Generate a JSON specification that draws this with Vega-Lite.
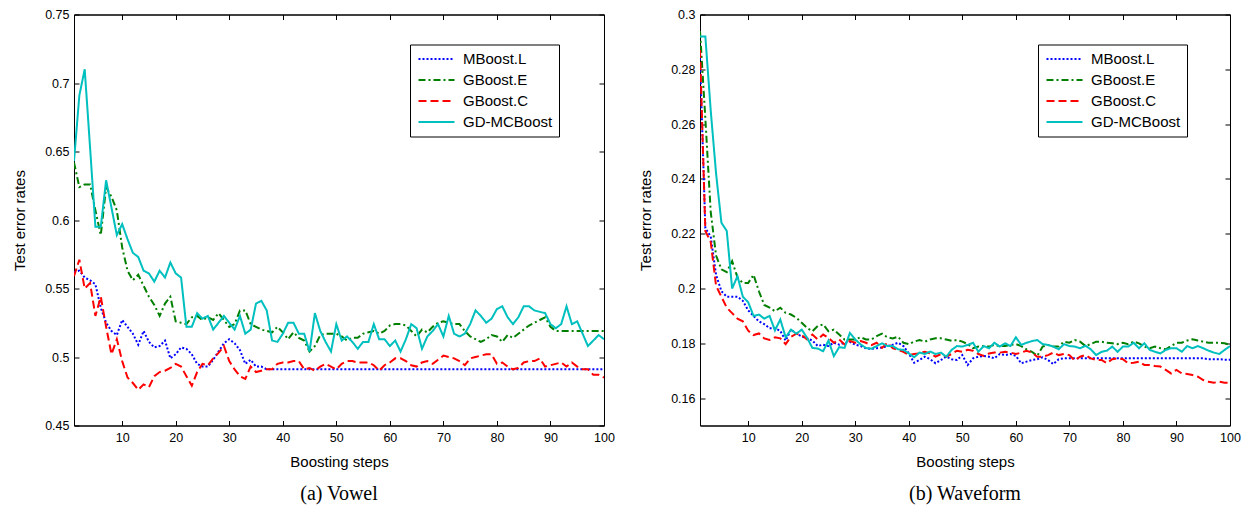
{
  "$schema": "https://vega.github.io/schema/vega-lite/v6.json",
  "background": "white",
  "padding": {"left": 12, "top": 7.5, "right": 5, "bottom": 5},
  "spacing": 23,
  "config": {
    "font": "Liberation Sans",
    "view": {"stroke": "black", "strokeWidth": 1},
    "axis": {
      "grid": false,
      "domainColor": "black",
      "domainWidth": 1,
      "tickColor": "black",
      "tickWidth": 1,
      "tickSize": -5,
      "labelColor": "black",
      "labelFontSize": 12.5,
      "labelPadding": 10,
      "titleColor": "black",
      "titleFontSize": 15,
      "titleFontWeight": "normal",
      "labelFlush": false,
      "labelOverlap": false
    },
    "legend": {
      "strokeColor": "black",
      "fillColor": "white",
      "padding": 6,
      "labelFontSize": 15,
      "labelColor": "black",
      "labelOffset": 18,
      "symbolOffset": 12,
      "symbolStrokeWidth": 2,
      "symbolType": "M-2.4,0H2.4",
      "symbolSize": 225,
      "rowPadding": 4,
      "cornerRadius": 0
    }
  },
  "datasets": {
    "vowel": [
      {"step":1,"MBoost_L":0.562,"GBoost_E":0.642,"GBoost_C":0.559,"GD-MCBoost":0.643},
      {"step":2,"MBoost_L":0.563,"GBoost_E":0.624,"GBoost_C":0.571,"GD-MCBoost":0.691},
      {"step":3,"MBoost_L":0.558,"GBoost_E":0.626,"GBoost_C":0.550,"GD-MCBoost":0.710},
      {"step":4,"MBoost_L":0.556,"GBoost_E":0.626,"GBoost_C":0.554,"GD-MCBoost":0.653},
      {"step":5,"MBoost_L":0.553,"GBoost_E":0.607,"GBoost_C":0.530,"GD-MCBoost":0.595},
      {"step":6,"MBoost_L":0.536,"GBoost_E":0.589,"GBoost_C":0.544,"GD-MCBoost":0.595},
      {"step":7,"MBoost_L":0.525,"GBoost_E":0.624,"GBoost_C":0.522,"GD-MCBoost":0.629},
      {"step":8,"MBoost_L":0.519,"GBoost_E":0.617,"GBoost_C":0.502,"GD-MCBoost":0.609},
      {"step":9,"MBoost_L":0.516,"GBoost_E":0.607,"GBoost_C":0.513,"GD-MCBoost":0.589},
      {"step":10,"MBoost_L":0.527,"GBoost_E":0.580,"GBoost_C":0.497,"GD-MCBoost":0.597},
      {"step":11,"MBoost_L":0.522,"GBoost_E":0.563,"GBoost_C":0.485,"GD-MCBoost":0.586},
      {"step":12,"MBoost_L":0.517,"GBoost_E":0.556,"GBoost_C":0.481,"GD-MCBoost":0.576},
      {"step":13,"MBoost_L":0.509,"GBoost_E":0.560,"GBoost_C":0.476,"GD-MCBoost":0.573},
      {"step":14,"MBoost_L":0.519,"GBoost_E":0.552,"GBoost_C":0.480,"GD-MCBoost":0.563},
      {"step":15,"MBoost_L":0.511,"GBoost_E":0.544,"GBoost_C":0.478,"GD-MCBoost":0.561},
      {"step":16,"MBoost_L":0.507,"GBoost_E":0.538,"GBoost_C":0.486,"GD-MCBoost":0.555},
      {"step":17,"MBoost_L":0.508,"GBoost_E":0.530,"GBoost_C":0.489,"GD-MCBoost":0.563},
      {"step":18,"MBoost_L":0.512,"GBoost_E":0.539,"GBoost_C":0.490,"GD-MCBoost":0.558},
      {"step":19,"MBoost_L":0.499,"GBoost_E":0.544,"GBoost_C":0.492,"GD-MCBoost":0.569},
      {"step":20,"MBoost_L":0.502,"GBoost_E":0.526,"GBoost_C":0.495,"GD-MCBoost":0.561},
      {"step":21,"MBoost_L":0.507,"GBoost_E":0.525,"GBoost_C":0.493,"GD-MCBoost":0.558},
      {"step":22,"MBoost_L":0.506,"GBoost_E":0.524,"GBoost_C":0.486,"GD-MCBoost":0.522},
      {"step":23,"MBoost_L":0.502,"GBoost_E":0.529,"GBoost_C":0.479,"GD-MCBoost":0.522},
      {"step":24,"MBoost_L":0.495,"GBoost_E":0.530,"GBoost_C":0.489,"GD-MCBoost":0.532},
      {"step":25,"MBoost_L":0.493,"GBoost_E":0.527,"GBoost_C":0.495,"GD-MCBoost":0.528},
      {"step":26,"MBoost_L":0.493,"GBoost_E":0.529,"GBoost_C":0.494,"GD-MCBoost":0.530},
      {"step":27,"MBoost_L":0.498,"GBoost_E":0.527,"GBoost_C":0.499,"GD-MCBoost":0.520},
      {"step":28,"MBoost_L":0.504,"GBoost_E":0.532,"GBoost_C":0.503,"GD-MCBoost":0.525},
      {"step":29,"MBoost_L":0.510,"GBoost_E":0.527,"GBoost_C":0.508,"GD-MCBoost":0.530},
      {"step":30,"MBoost_L":0.513,"GBoost_E":0.522,"GBoost_C":0.497,"GD-MCBoost":0.525},
      {"step":31,"MBoost_L":0.510,"GBoost_E":0.524,"GBoost_C":0.491,"GD-MCBoost":0.520},
      {"step":32,"MBoost_L":0.505,"GBoost_E":0.534,"GBoost_C":0.486,"GD-MCBoost":0.530},
      {"step":33,"MBoost_L":0.495,"GBoost_E":0.534,"GBoost_C":0.484,"GD-MCBoost":0.517},
      {"step":34,"MBoost_L":0.498,"GBoost_E":0.524,"GBoost_C":0.493,"GD-MCBoost":0.520},
      {"step":35,"MBoost_L":0.493,"GBoost_E":0.522,"GBoost_C":0.489,"GD-MCBoost":0.539},
      {"step":36,"MBoost_L":0.493,"GBoost_E":0.520,"GBoost_C":0.490,"GD-MCBoost":0.541},
      {"step":37,"MBoost_L":0.491,"GBoost_E":0.519,"GBoost_C":0.491,"GD-MCBoost":0.534},
      {"step":38,"MBoost_L":0.491,"GBoost_E":0.518,"GBoost_C":0.491,"GD-MCBoost":0.512},
      {"step":39,"MBoost_L":0.491,"GBoost_E":0.522,"GBoost_C":0.495,"GD-MCBoost":0.511},
      {"step":40,"MBoost_L":0.491,"GBoost_E":0.518,"GBoost_C":0.496,"GD-MCBoost":0.517},
      {"step":41,"MBoost_L":0.491,"GBoost_E":0.513,"GBoost_C":0.496,"GD-MCBoost":0.525},
      {"step":42,"MBoost_L":0.491,"GBoost_E":0.518,"GBoost_C":0.497,"GD-MCBoost":0.525},
      {"step":43,"MBoost_L":0.491,"GBoost_E":0.514,"GBoost_C":0.497,"GD-MCBoost":0.517},
      {"step":44,"MBoost_L":0.491,"GBoost_E":0.512,"GBoost_C":0.491,"GD-MCBoost":0.517},
      {"step":45,"MBoost_L":0.491,"GBoost_E":0.504,"GBoost_C":0.492,"GD-MCBoost":0.504},
      {"step":46,"MBoost_L":0.491,"GBoost_E":0.508,"GBoost_C":0.490,"GD-MCBoost":0.532},
      {"step":47,"MBoost_L":0.491,"GBoost_E":0.516,"GBoost_C":0.493,"GD-MCBoost":0.519},
      {"step":48,"MBoost_L":0.491,"GBoost_E":0.517,"GBoost_C":0.495,"GD-MCBoost":0.511},
      {"step":49,"MBoost_L":0.491,"GBoost_E":0.517,"GBoost_C":0.493,"GD-MCBoost":0.504},
      {"step":50,"MBoost_L":0.491,"GBoost_E":0.517,"GBoost_C":0.491,"GD-MCBoost":0.524},
      {"step":51,"MBoost_L":0.491,"GBoost_E":0.515,"GBoost_C":0.495,"GD-MCBoost":0.512},
      {"step":52,"MBoost_L":0.491,"GBoost_E":0.512,"GBoost_C":0.497,"GD-MCBoost":0.515},
      {"step":53,"MBoost_L":0.491,"GBoost_E":0.514,"GBoost_C":0.497,"GD-MCBoost":0.511},
      {"step":54,"MBoost_L":0.491,"GBoost_E":0.514,"GBoost_C":0.496,"GD-MCBoost":0.506},
      {"step":55,"MBoost_L":0.491,"GBoost_E":0.517,"GBoost_C":0.496,"GD-MCBoost":0.511},
      {"step":56,"MBoost_L":0.491,"GBoost_E":0.518,"GBoost_C":0.496,"GD-MCBoost":0.511},
      {"step":57,"MBoost_L":0.491,"GBoost_E":0.519,"GBoost_C":0.494,"GD-MCBoost":0.524},
      {"step":58,"MBoost_L":0.491,"GBoost_E":0.517,"GBoost_C":0.490,"GD-MCBoost":0.513},
      {"step":59,"MBoost_L":0.491,"GBoost_E":0.519,"GBoost_C":0.494,"GD-MCBoost":0.513},
      {"step":60,"MBoost_L":0.491,"GBoost_E":0.523,"GBoost_C":0.496,"GD-MCBoost":0.508},
      {"step":61,"MBoost_L":0.491,"GBoost_E":0.524,"GBoost_C":0.499,"GD-MCBoost":0.512},
      {"step":62,"MBoost_L":0.491,"GBoost_E":0.524,"GBoost_C":0.499,"GD-MCBoost":0.504},
      {"step":63,"MBoost_L":0.491,"GBoost_E":0.523,"GBoost_C":0.497,"GD-MCBoost":0.513},
      {"step":64,"MBoost_L":0.491,"GBoost_E":0.519,"GBoost_C":0.494,"GD-MCBoost":0.524},
      {"step":65,"MBoost_L":0.491,"GBoost_E":0.515,"GBoost_C":0.493,"GD-MCBoost":0.521},
      {"step":66,"MBoost_L":0.491,"GBoost_E":0.520,"GBoost_C":0.496,"GD-MCBoost":0.506},
      {"step":67,"MBoost_L":0.491,"GBoost_E":0.518,"GBoost_C":0.497,"GD-MCBoost":0.515},
      {"step":68,"MBoost_L":0.491,"GBoost_E":0.522,"GBoost_C":0.495,"GD-MCBoost":0.519},
      {"step":69,"MBoost_L":0.491,"GBoost_E":0.525,"GBoost_C":0.498,"GD-MCBoost":0.524},
      {"step":70,"MBoost_L":0.491,"GBoost_E":0.526,"GBoost_C":0.501,"GD-MCBoost":0.515},
      {"step":71,"MBoost_L":0.491,"GBoost_E":0.525,"GBoost_C":0.500,"GD-MCBoost":0.530},
      {"step":72,"MBoost_L":0.491,"GBoost_E":0.524,"GBoost_C":0.499,"GD-MCBoost":0.517},
      {"step":73,"MBoost_L":0.491,"GBoost_E":0.524,"GBoost_C":0.497,"GD-MCBoost":0.515},
      {"step":74,"MBoost_L":0.491,"GBoost_E":0.519,"GBoost_C":0.494,"GD-MCBoost":0.517},
      {"step":75,"MBoost_L":0.491,"GBoost_E":0.515,"GBoost_C":0.499,"GD-MCBoost":0.524},
      {"step":76,"MBoost_L":0.491,"GBoost_E":0.513,"GBoost_C":0.500,"GD-MCBoost":0.534},
      {"step":77,"MBoost_L":0.491,"GBoost_E":0.511,"GBoost_C":0.501,"GD-MCBoost":0.530},
      {"step":78,"MBoost_L":0.491,"GBoost_E":0.513,"GBoost_C":0.502,"GD-MCBoost":0.525},
      {"step":79,"MBoost_L":0.491,"GBoost_E":0.516,"GBoost_C":0.502,"GD-MCBoost":0.528},
      {"step":80,"MBoost_L":0.491,"GBoost_E":0.515,"GBoost_C":0.495,"GD-MCBoost":0.535},
      {"step":81,"MBoost_L":0.491,"GBoost_E":0.511,"GBoost_C":0.496,"GD-MCBoost":0.537},
      {"step":82,"MBoost_L":0.491,"GBoost_E":0.516,"GBoost_C":0.493,"GD-MCBoost":0.529},
      {"step":83,"MBoost_L":0.491,"GBoost_E":0.514,"GBoost_C":0.491,"GD-MCBoost":0.524},
      {"step":84,"MBoost_L":0.491,"GBoost_E":0.517,"GBoost_C":0.492,"GD-MCBoost":0.529},
      {"step":85,"MBoost_L":0.491,"GBoost_E":0.520,"GBoost_C":0.496,"GD-MCBoost":0.537},
      {"step":86,"MBoost_L":0.491,"GBoost_E":0.523,"GBoost_C":0.497,"GD-MCBoost":0.537},
      {"step":87,"MBoost_L":0.491,"GBoost_E":0.525,"GBoost_C":0.497,"GD-MCBoost":0.534},
      {"step":88,"MBoost_L":0.491,"GBoost_E":0.527,"GBoost_C":0.499,"GD-MCBoost":0.533},
      {"step":89,"MBoost_L":0.491,"GBoost_E":0.529,"GBoost_C":0.493,"GD-MCBoost":0.532},
      {"step":90,"MBoost_L":0.491,"GBoost_E":0.522,"GBoost_C":0.494,"GD-MCBoost":0.524},
      {"step":91,"MBoost_L":0.491,"GBoost_E":0.519,"GBoost_C":0.495,"GD-MCBoost":0.521},
      {"step":92,"MBoost_L":0.491,"GBoost_E":0.519,"GBoost_C":0.496,"GD-MCBoost":0.524},
      {"step":93,"MBoost_L":0.491,"GBoost_E":0.519,"GBoost_C":0.493,"GD-MCBoost":0.537},
      {"step":94,"MBoost_L":0.491,"GBoost_E":0.519,"GBoost_C":0.496,"GD-MCBoost":0.524},
      {"step":95,"MBoost_L":0.491,"GBoost_E":0.519,"GBoost_C":0.493,"GD-MCBoost":0.526},
      {"step":96,"MBoost_L":0.491,"GBoost_E":0.519,"GBoost_C":0.491,"GD-MCBoost":0.517},
      {"step":97,"MBoost_L":0.491,"GBoost_E":0.519,"GBoost_C":0.491,"GD-MCBoost":0.508},
      {"step":98,"MBoost_L":0.491,"GBoost_E":0.519,"GBoost_C":0.487,"GD-MCBoost":0.512},
      {"step":99,"MBoost_L":0.491,"GBoost_E":0.519,"GBoost_C":0.487,"GD-MCBoost":0.516},
      {"step":100,"MBoost_L":0.491,"GBoost_E":0.519,"GBoost_C":0.485,"GD-MCBoost":0.513}
    ],
    "waveform": [
      {"step":1,"MBoost_L":0.284,"GBoost_E":0.294,"GBoost_C":0.287,"GD-MCBoost":0.292},
      {"step":2,"MBoost_L":0.222,"GBoost_E":0.262,"GBoost_C":0.221,"GD-MCBoost":0.292},
      {"step":3,"MBoost_L":0.219,"GBoost_E":0.228,"GBoost_C":0.217,"GD-MCBoost":0.265},
      {"step":4,"MBoost_L":0.205,"GBoost_E":0.212,"GBoost_C":0.201,"GD-MCBoost":0.242},
      {"step":5,"MBoost_L":0.199,"GBoost_E":0.207,"GBoost_C":0.197,"GD-MCBoost":0.224},
      {"step":6,"MBoost_L":0.197,"GBoost_E":0.206,"GBoost_C":0.193,"GD-MCBoost":0.221},
      {"step":7,"MBoost_L":0.197,"GBoost_E":0.210,"GBoost_C":0.191,"GD-MCBoost":0.200},
      {"step":8,"MBoost_L":0.197,"GBoost_E":0.204,"GBoost_C":0.189,"GD-MCBoost":0.2045},
      {"step":9,"MBoost_L":0.1955,"GBoost_E":0.202,"GBoost_C":0.188,"GD-MCBoost":0.197},
      {"step":10,"MBoost_L":0.192,"GBoost_E":0.202,"GBoost_C":0.1846,"GD-MCBoost":0.195},
      {"step":11,"MBoost_L":0.190,"GBoost_E":0.205,"GBoost_C":0.183,"GD-MCBoost":0.190},
      {"step":12,"MBoost_L":0.188,"GBoost_E":0.199,"GBoost_C":0.1836,"GD-MCBoost":0.1905},
      {"step":13,"MBoost_L":0.187,"GBoost_E":0.194,"GBoost_C":0.1818,"GD-MCBoost":0.189},
      {"step":14,"MBoost_L":0.1855,"GBoost_E":0.193,"GBoost_C":0.1812,"GD-MCBoost":0.190},
      {"step":15,"MBoost_L":0.1855,"GBoost_E":0.1917,"GBoost_C":0.1822,"GD-MCBoost":0.1847},
      {"step":16,"MBoost_L":0.1845,"GBoost_E":0.193,"GBoost_C":0.1818,"GD-MCBoost":0.1887},
      {"step":17,"MBoost_L":0.181,"GBoost_E":0.1911,"GBoost_C":0.1797,"GD-MCBoost":0.1822},
      {"step":18,"MBoost_L":0.185,"GBoost_E":0.1905,"GBoost_C":0.1824,"GD-MCBoost":0.185},
      {"step":19,"MBoost_L":0.1835,"GBoost_E":0.1893,"GBoost_C":0.1835,"GD-MCBoost":0.1835},
      {"step":20,"MBoost_L":0.1825,"GBoost_E":0.1875,"GBoost_C":0.183,"GD-MCBoost":0.185},
      {"step":21,"MBoost_L":0.1818,"GBoost_E":0.1856,"GBoost_C":0.1814,"GD-MCBoost":0.182},
      {"step":22,"MBoost_L":0.181,"GBoost_E":0.1844,"GBoost_C":0.1832,"GD-MCBoost":0.1783},
      {"step":23,"MBoost_L":0.179,"GBoost_E":0.1863,"GBoost_C":0.1814,"GD-MCBoost":0.1781},
      {"step":24,"MBoost_L":0.1795,"GBoost_E":0.1869,"GBoost_C":0.1832,"GD-MCBoost":0.1771},
      {"step":25,"MBoost_L":0.179,"GBoost_E":0.1844,"GBoost_C":0.182,"GD-MCBoost":0.181},
      {"step":26,"MBoost_L":0.1802,"GBoost_E":0.185,"GBoost_C":0.1802,"GD-MCBoost":0.1753},
      {"step":27,"MBoost_L":0.1795,"GBoost_E":0.1832,"GBoost_C":0.1814,"GD-MCBoost":0.1786},
      {"step":28,"MBoost_L":0.1802,"GBoost_E":0.1814,"GBoost_C":0.1796,"GD-MCBoost":0.1783},
      {"step":29,"MBoost_L":0.1805,"GBoost_E":0.1814,"GBoost_C":0.1808,"GD-MCBoost":0.1838},
      {"step":30,"MBoost_L":0.1795,"GBoost_E":0.1814,"GBoost_C":0.1802,"GD-MCBoost":0.1814},
      {"step":31,"MBoost_L":0.179,"GBoost_E":0.1822,"GBoost_C":0.1808,"GD-MCBoost":0.1796},
      {"step":32,"MBoost_L":0.1782,"GBoost_E":0.1814,"GBoost_C":0.1802,"GD-MCBoost":0.1783},
      {"step":33,"MBoost_L":0.178,"GBoost_E":0.1814,"GBoost_C":0.1793,"GD-MCBoost":0.178},
      {"step":34,"MBoost_L":0.1782,"GBoost_E":0.1826,"GBoost_C":0.1802,"GD-MCBoost":0.179},
      {"step":35,"MBoost_L":0.1785,"GBoost_E":0.1835,"GBoost_C":0.1783,"GD-MCBoost":0.180},
      {"step":36,"MBoost_L":0.179,"GBoost_E":0.1822,"GBoost_C":0.1802,"GD-MCBoost":0.179},
      {"step":37,"MBoost_L":0.1795,"GBoost_E":0.1818,"GBoost_C":0.1782,"GD-MCBoost":0.179},
      {"step":38,"MBoost_L":0.1802,"GBoost_E":0.1824,"GBoost_C":0.1776,"GD-MCBoost":0.1778},
      {"step":39,"MBoost_L":0.179,"GBoost_E":0.1802,"GBoost_C":0.1769,"GD-MCBoost":0.1776},
      {"step":40,"MBoost_L":0.1763,"GBoost_E":0.1797,"GBoost_C":0.1757,"GD-MCBoost":0.1763},
      {"step":41,"MBoost_L":0.1729,"GBoost_E":0.1806,"GBoost_C":0.1761,"GD-MCBoost":0.1749},
      {"step":42,"MBoost_L":0.1739,"GBoost_E":0.1812,"GBoost_C":0.1763,"GD-MCBoost":0.1766},
      {"step":43,"MBoost_L":0.1751,"GBoost_E":0.1806,"GBoost_C":0.1769,"GD-MCBoost":0.1761},
      {"step":44,"MBoost_L":0.1742,"GBoost_E":0.1814,"GBoost_C":0.1763,"GD-MCBoost":0.177},
      {"step":45,"MBoost_L":0.1727,"GBoost_E":0.1818,"GBoost_C":0.1751,"GD-MCBoost":0.1761},
      {"step":46,"MBoost_L":0.1739,"GBoost_E":0.1818,"GBoost_C":0.1761,"GD-MCBoost":0.1766},
      {"step":47,"MBoost_L":0.1751,"GBoost_E":0.1814,"GBoost_C":0.1751,"GD-MCBoost":0.1751},
      {"step":48,"MBoost_L":0.1742,"GBoost_E":0.1809,"GBoost_C":0.1761,"GD-MCBoost":0.1776},
      {"step":49,"MBoost_L":0.1739,"GBoost_E":0.1812,"GBoost_C":0.1773,"GD-MCBoost":0.179},
      {"step":50,"MBoost_L":0.1757,"GBoost_E":0.1806,"GBoost_C":0.1769,"GD-MCBoost":0.1788},
      {"step":51,"MBoost_L":0.1721,"GBoost_E":0.1797,"GBoost_C":0.1776,"GD-MCBoost":0.1794},
      {"step":52,"MBoost_L":0.1745,"GBoost_E":0.1782,"GBoost_C":0.1773,"GD-MCBoost":0.1802},
      {"step":53,"MBoost_L":0.1751,"GBoost_E":0.1788,"GBoost_C":0.1761,"GD-MCBoost":0.1769},
      {"step":54,"MBoost_L":0.1754,"GBoost_E":0.179,"GBoost_C":0.1754,"GD-MCBoost":0.179},
      {"step":55,"MBoost_L":0.1751,"GBoost_E":0.1788,"GBoost_C":0.1763,"GD-MCBoost":0.1782},
      {"step":56,"MBoost_L":0.1745,"GBoost_E":0.1794,"GBoost_C":0.1766,"GD-MCBoost":0.1802},
      {"step":57,"MBoost_L":0.1761,"GBoost_E":0.179,"GBoost_C":0.1766,"GD-MCBoost":0.1788},
      {"step":58,"MBoost_L":0.1757,"GBoost_E":0.179,"GBoost_C":0.1769,"GD-MCBoost":0.180},
      {"step":59,"MBoost_L":0.1761,"GBoost_E":0.1794,"GBoost_C":0.1766,"GD-MCBoost":0.179},
      {"step":60,"MBoost_L":0.1754,"GBoost_E":0.1797,"GBoost_C":0.1761,"GD-MCBoost":0.1822},
      {"step":61,"MBoost_L":0.1727,"GBoost_E":0.179,"GBoost_C":0.1766,"GD-MCBoost":0.1794},
      {"step":62,"MBoost_L":0.1733,"GBoost_E":0.1778,"GBoost_C":0.1773,"GD-MCBoost":0.1802},
      {"step":63,"MBoost_L":0.1739,"GBoost_E":0.1769,"GBoost_C":0.1766,"GD-MCBoost":0.1808},
      {"step":64,"MBoost_L":0.1742,"GBoost_E":0.1754,"GBoost_C":0.1751,"GD-MCBoost":0.1812},
      {"step":65,"MBoost_L":0.1749,"GBoost_E":0.1788,"GBoost_C":0.1751,"GD-MCBoost":0.1797},
      {"step":66,"MBoost_L":0.1739,"GBoost_E":0.1794,"GBoost_C":0.1757,"GD-MCBoost":0.1794},
      {"step":67,"MBoost_L":0.1724,"GBoost_E":0.1788,"GBoost_C":0.1766,"GD-MCBoost":0.1788},
      {"step":68,"MBoost_L":0.1742,"GBoost_E":0.1788,"GBoost_C":0.1757,"GD-MCBoost":0.1778},
      {"step":69,"MBoost_L":0.1745,"GBoost_E":0.1806,"GBoost_C":0.1761,"GD-MCBoost":0.1797},
      {"step":70,"MBoost_L":0.1745,"GBoost_E":0.1802,"GBoost_C":0.1757,"GD-MCBoost":0.179},
      {"step":71,"MBoost_L":0.1745,"GBoost_E":0.1812,"GBoost_C":0.1737,"GD-MCBoost":0.1788},
      {"step":72,"MBoost_L":0.1745,"GBoost_E":0.1806,"GBoost_C":0.1751,"GD-MCBoost":0.1782},
      {"step":73,"MBoost_L":0.1745,"GBoost_E":0.179,"GBoost_C":0.1757,"GD-MCBoost":0.1791},
      {"step":74,"MBoost_L":0.1745,"GBoost_E":0.1797,"GBoost_C":0.1745,"GD-MCBoost":0.1778},
      {"step":75,"MBoost_L":0.1745,"GBoost_E":0.1806,"GBoost_C":0.1739,"GD-MCBoost":0.1757},
      {"step":76,"MBoost_L":0.1745,"GBoost_E":0.1806,"GBoost_C":0.1739,"GD-MCBoost":0.1769},
      {"step":77,"MBoost_L":0.1745,"GBoost_E":0.1802,"GBoost_C":0.1727,"GD-MCBoost":0.1773},
      {"step":78,"MBoost_L":0.1745,"GBoost_E":0.18,"GBoost_C":0.1742,"GD-MCBoost":0.1788},
      {"step":79,"MBoost_L":0.1745,"GBoost_E":0.1797,"GBoost_C":0.1745,"GD-MCBoost":0.1769},
      {"step":80,"MBoost_L":0.1745,"GBoost_E":0.1802,"GBoost_C":0.1742,"GD-MCBoost":0.1788},
      {"step":81,"MBoost_L":0.1745,"GBoost_E":0.1797,"GBoost_C":0.1727,"GD-MCBoost":0.1788},
      {"step":82,"MBoost_L":0.1745,"GBoost_E":0.1806,"GBoost_C":0.1729,"GD-MCBoost":0.1802},
      {"step":83,"MBoost_L":0.1745,"GBoost_E":0.18,"GBoost_C":0.1733,"GD-MCBoost":0.1782},
      {"step":84,"MBoost_L":0.1745,"GBoost_E":0.1788,"GBoost_C":0.1721,"GD-MCBoost":0.18},
      {"step":85,"MBoost_L":0.1745,"GBoost_E":0.1782,"GBoost_C":0.1721,"GD-MCBoost":0.1776},
      {"step":86,"MBoost_L":0.1745,"GBoost_E":0.1788,"GBoost_C":0.1717,"GD-MCBoost":0.1769},
      {"step":87,"MBoost_L":0.1745,"GBoost_E":0.1782,"GBoost_C":0.1715,"GD-MCBoost":0.1763},
      {"step":88,"MBoost_L":0.1745,"GBoost_E":0.1778,"GBoost_C":0.1703,"GD-MCBoost":0.1776},
      {"step":89,"MBoost_L":0.1745,"GBoost_E":0.179,"GBoost_C":0.169,"GD-MCBoost":0.1782},
      {"step":90,"MBoost_L":0.1745,"GBoost_E":0.1802,"GBoost_C":0.1703,"GD-MCBoost":0.1782},
      {"step":91,"MBoost_L":0.1745,"GBoost_E":0.1802,"GBoost_C":0.169,"GD-MCBoost":0.1769},
      {"step":92,"MBoost_L":0.1745,"GBoost_E":0.181,"GBoost_C":0.1688,"GD-MCBoost":0.179},
      {"step":93,"MBoost_L":0.1745,"GBoost_E":0.1815,"GBoost_C":0.1684,"GD-MCBoost":0.1782},
      {"step":94,"MBoost_L":0.1745,"GBoost_E":0.181,"GBoost_C":0.1678,"GD-MCBoost":0.179},
      {"step":95,"MBoost_L":0.1745,"GBoost_E":0.1806,"GBoost_C":0.1666,"GD-MCBoost":0.1782},
      {"step":96,"MBoost_L":0.1742,"GBoost_E":0.1802,"GBoost_C":0.166,"GD-MCBoost":0.1773},
      {"step":97,"MBoost_L":0.1742,"GBoost_E":0.1802,"GBoost_C":0.1656,"GD-MCBoost":0.1766},
      {"step":98,"MBoost_L":0.1742,"GBoost_E":0.1802,"GBoost_C":0.166,"GD-MCBoost":0.1761},
      {"step":99,"MBoost_L":0.174,"GBoost_E":0.18,"GBoost_C":0.1656,"GD-MCBoost":0.1776},
      {"step":100,"MBoost_L":0.174,"GBoost_E":0.1794,"GBoost_C":0.1656,"GD-MCBoost":0.179}
    ]
  },
  "resolve": {
    "scale": {"color": "independent", "strokeDash": "independent"},
    "legend": {"color": "independent", "strokeDash": "independent"}
  },
  "hconcat": [
    {
      "width": 530,
      "height": 411,
      "data": {"name": "vowel"},
      "transform": [{"fold": ["MBoost_L", "GBoost_E", "GBoost_C", "GD-MCBoost"], "as": ["method", "error"]}],
      "title": {"text": "(a) Vowel", "orient": "bottom", "anchor": "middle", "font": "Liberation Serif", "fontSize": 20, "fontWeight": "normal", "color": "black", "offset": 15},
      "resolve": {"scale": {"x": "independent", "y": "independent"}, "axis": {"x": "independent", "y": "independent"}},
      "layer": [
        {
          "mark": {"type": "line", "strokeWidth": 2, "clip": true},
          "encoding": {
            "x": {"field": "step", "type": "quantitative", "scale": {"domain": [1, 100], "nice": false, "zero": false},
                  "axis": {"orient": "bottom", "values": [10, 20, 30, 40, 50, 60, 70, 80, 90, 100], "title": "Boosting steps", "titlePadding": 10, "labelPadding": 11}},
            "y": {"field": "error", "type": "quantitative", "scale": {"domain": [0.45, 0.75], "nice": false, "zero": false},
                  "axis": {"orient": "left", "values": [0.45, 0.5, 0.55, 0.6, 0.65, 0.7, 0.75], "format": ".2~f", "title": "Test error rates", "titlePadding": 17}},
            "color": {"field": "method", "type": "nominal",
                      "scale": {"domain": ["MBoost_L", "GBoost_E", "GBoost_C", "GD-MCBoost"], "range": ["#0000ff", "#007f00", "#ff0000", "#00bfbf"]},
                      "legend": {"orient": "none", "legendX": 336, "legendY": 30, "title": null, "labelExpr": "replace(datum.label, '_', '.')"}},
            "strokeDash": {"field": "method", "type": "nominal",
                      "scale": {"domain": ["MBoost_L", "GBoost_E", "GBoost_C", "GD-MCBoost"], "range": [[2, 2], [7, 3, 2, 3], [8, 4], [1, 0]]},
                      "legend": {"orient": "none", "legendX": 336, "legendY": 30, "title": null, "labelExpr": "replace(datum.label, '_', '.')"}}
          }
        },
        {
          "mark": {"type": "line", "strokeOpacity": 0},
          "encoding": {
            "x": {"field": "step", "type": "quantitative", "scale": {"domain": [1, 100], "nice": false, "zero": false},
                  "axis": {"orient": "top", "values": [10, 20, 30, 40, 50, 60, 70, 80, 90, 100], "labels": false, "title": null}},
            "y": {"field": "error", "type": "quantitative", "scale": {"domain": [0.45, 0.75], "nice": false, "zero": false},
                  "axis": {"orient": "right", "values": [0.45, 0.5, 0.55, 0.6, 0.65, 0.7, 0.75], "labels": false, "title": null}}
          }
        }
      ]
    },
    {
      "width": 530,
      "height": 411,
      "data": {"name": "waveform"},
      "transform": [{"fold": ["MBoost_L", "GBoost_E", "GBoost_C", "GD-MCBoost"], "as": ["method", "error"]}],
      "title": {"text": "(b) Waveform", "orient": "bottom", "anchor": "middle", "font": "Liberation Serif", "fontSize": 20, "fontWeight": "normal", "color": "black", "offset": 15},
      "resolve": {"scale": {"x": "independent", "y": "independent"}, "axis": {"x": "independent", "y": "independent"}},
      "layer": [
        {
          "mark": {"type": "line", "strokeWidth": 2, "clip": true},
          "encoding": {
            "x": {"field": "step", "type": "quantitative", "scale": {"domain": [1, 100], "nice": false, "zero": false},
                  "axis": {"orient": "bottom", "values": [10, 20, 30, 40, 50, 60, 70, 80, 90, 100], "title": "Boosting steps", "titlePadding": 10, "labelPadding": 11}},
            "y": {"field": "error", "type": "quantitative", "scale": {"domain": [0.15, 0.3], "nice": false, "zero": false},
                  "axis": {"orient": "left", "values": [0.16, 0.18, 0.2, 0.22, 0.24, 0.26, 0.28, 0.3], "format": ".2~f", "title": "Test error rates", "titlePadding": 17}},
            "color": {"field": "method", "type": "nominal",
                      "scale": {"domain": ["MBoost_L", "GBoost_E", "GBoost_C", "GD-MCBoost"], "range": ["#0000ff", "#007f00", "#ff0000", "#00bfbf"]},
                      "legend": {"orient": "none", "legendX": 338, "legendY": 30, "title": null, "labelExpr": "replace(datum.label, '_', '.')"}},
            "strokeDash": {"field": "method", "type": "nominal",
                      "scale": {"domain": ["MBoost_L", "GBoost_E", "GBoost_C", "GD-MCBoost"], "range": [[2, 2], [7, 3, 2, 3], [8, 4], [1, 0]]},
                      "legend": {"orient": "none", "legendX": 338, "legendY": 30, "title": null, "labelExpr": "replace(datum.label, '_', '.')"}}
          }
        },
        {
          "mark": {"type": "line", "strokeOpacity": 0},
          "encoding": {
            "x": {"field": "step", "type": "quantitative", "scale": {"domain": [1, 100], "nice": false, "zero": false},
                  "axis": {"orient": "top", "values": [10, 20, 30, 40, 50, 60, 70, 80, 90, 100], "labels": false, "title": null}},
            "y": {"field": "error", "type": "quantitative", "scale": {"domain": [0.15, 0.3], "nice": false, "zero": false},
                  "axis": {"orient": "right", "values": [0.16, 0.18, 0.2, 0.22, 0.24, 0.26, 0.28, 0.3], "labels": false, "title": null}}
          }
        }
      ]
    }
  ]
}
